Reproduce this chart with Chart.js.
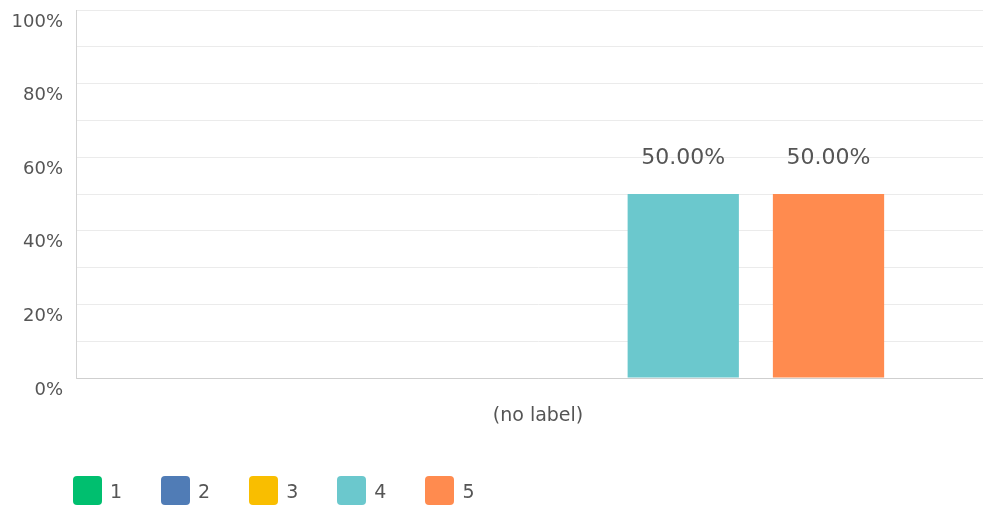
<!DOCTYPE html>
<html>
<head>
<meta charset="utf-8">
<title>Rating chart</title>
<script src="https://cdn.jsdelivr.net/npm/chart.js@4.4.1/dist/chart.umd.min.js"></script>
<style>
  html, body { margin: 0; padding: 0; background: #fff; }
  #wrap { position: relative; width: 983px; height: 508px; overflow: hidden; }
  #chartBox { position: absolute; left: 0; top: 0; width: 1000px; height: 508px; }
  #legend { position: absolute; left: 73px; top: 476px; display: flex; font-family: 'DejaVu Sans', sans-serif; font-size: 19px; color: #555; }
  #legend .item { display: flex; align-items: center; margin-right: 39px; height: 29px; }
  #legend .swatch { width: 29px; height: 29px; border-radius: 4px; margin-right: 8px; }
</style>
</head>
<body>
<div id="wrap">
  <div id="chartBox"><canvas id="ratingChart"></canvas></div>
  <div id="legend"></div>
</div>
<script>
var categories = ['(no label)'];
var seriesNames = ['1', '2', '3', '4', '5'];
var seriesValues = [[0], [0], [0], [50], [50]];
var seriesColors = ['#00BF6F', '#507CB6', '#F9BE00', '#6BC8CD', '#FF8B4F'];
var yTickLabels = ['0%', '20%', '40%', '60%', '80%', '100%'];

var textColor = '#555';
var fontFamily = "'DejaVu Sans', sans-serif";

// percentage text above each non-zero bar
var valueLabels = {
  id: 'valueLabels',
  afterDatasetsDraw: function (chart) {
    var ctx = chart.ctx;
    ctx.save();
    ctx.font = '22px ' + fontFamily;
    ctx.fillStyle = textColor;
    ctx.textAlign = 'center';
    ctx.textBaseline = 'middle';
    chart.data.datasets.forEach(function (ds, i) {
      var meta = chart.getDatasetMeta(i);
      meta.data.forEach(function (bar, j) {
        var v = ds.data[j];
        if (!v) return;
        ctx.fillText(v.toFixed(2) + '%', bar.x, bar.y - 36);
      });
    });
    ctx.restore();
  }
};

var ctx = document.getElementById('ratingChart').getContext('2d');
var ratingChart = new Chart(ctx, {
  type: 'bar',
  data: {
    labels: categories,
    datasets: seriesNames.map(function (name, i) {
      return {
        label: name,
        data: seriesValues[i],
        backgroundColor: seriesColors[i],
        borderWidth: 0,
        categoryPercentage: 0.786,
        barPercentage: 0.766
      };
    })
  },
  options: {
    responsive: true,
    maintainAspectRatio: false,
    animation: false,
    layout: { padding: { top: 10, right: 0, bottom: 80, left: 0 } },
    plugins: {
      legend: { display: false },
      tooltip: { enabled: false }
    },
    scales: {
      x: {
        grid: { display: false, drawTicks: false },
        border: { display: true, color: '#cfcfcf', width: 1 },
        afterFit: function (scale) { scale.height = 50; },
        ticks: {
          padding: 27,
          color: textColor,
          font: { family: fontFamily, size: 19 }
        }
      },
      y: {
        min: 0,
        max: 100,
        afterFit: function (scale) {
          scale.width = 76;
          // tick labels sit below their lines, so no extra room above/below the axis
          scale.paddingTop = 0;
          scale.paddingBottom = 0;
        },
        grid: {
          drawTicks: false,
          color: function (c) { return c.tick && c.tick.value === 0 ? '#cfcfcf' : '#ebebeb'; }
        },
        border: { display: true, color: '#d3d3d3', width: 1 },
        ticks: {
          stepSize: 10,
          autoSkip: false,
          padding: 13,
          labelOffset: 12,
          color: textColor,
          font: { family: fontFamily, size: 18 },
          callback: function (v) {
            return v % 20 === 0 ? yTickLabels[v / 20] : '';
          }
        }
      }
    }
  },
  plugins: [valueLabels]
});

// legend row built from the chart's own datasets
var legendEl = document.getElementById('legend');
ratingChart.data.datasets.forEach(function (ds) {
  var item = document.createElement('div');
  item.className = 'item';
  var sw = document.createElement('span');
  sw.className = 'swatch';
  sw.style.background = ds.backgroundColor;
  var txt = document.createElement('span');
  txt.textContent = ds.label;
  item.appendChild(sw);
  item.appendChild(txt);
  legendEl.appendChild(item);
});
</script>
</body>
</html>
